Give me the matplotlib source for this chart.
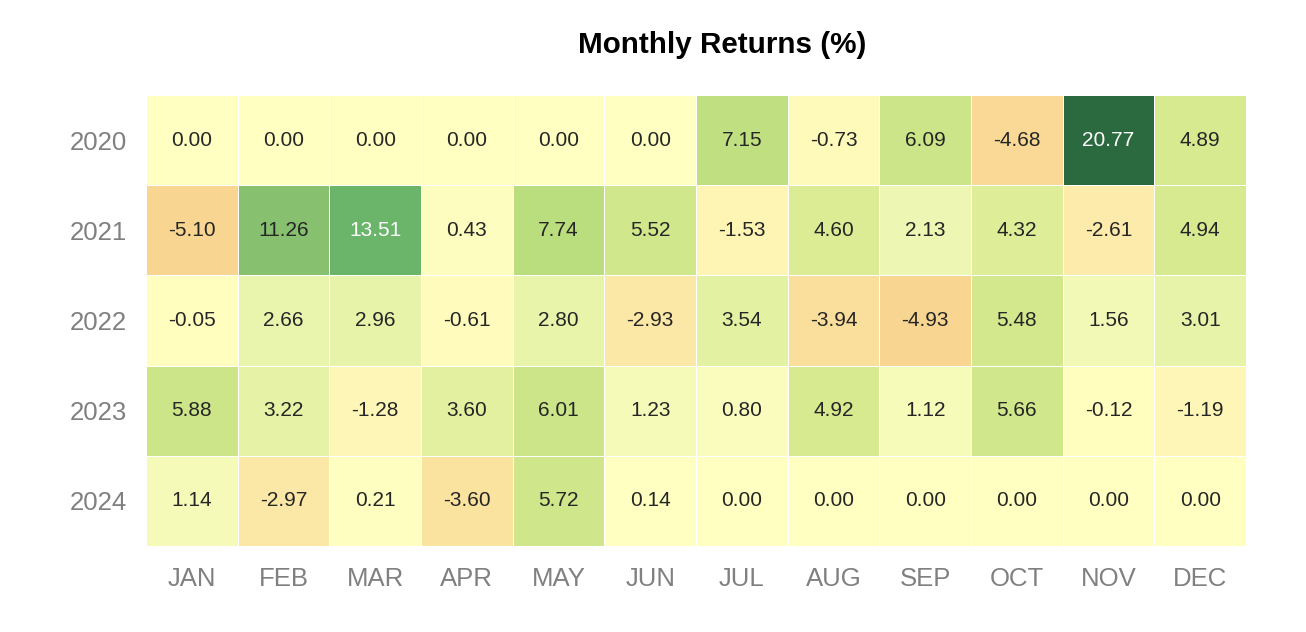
import matplotlib

matplotlib.use("Agg")
import matplotlib.pyplot as plt
import numpy as np
from matplotlib.colors import LinearSegmentedColormap, Normalize

plt.rcParams["font.family"] = ["Liberation Sans", "DejaVu Sans"]

YEARS = ["2020", "2021", "2022", "2023", "2024"]
MONTHS = ["JAN", "FEB", "MAR", "APR", "MAY", "JUN",
          "JUL", "AUG", "SEP", "OCT", "NOV", "DEC"]

R2020 = [0.00, 0.00, 0.00, 0.00, 0.00, 0.00, 7.15, -0.73, 6.09, -4.68, 20.77, 4.89]
R2021 = [-5.10, 11.26, 13.51, 0.43, 7.74, 5.52, -1.53, 4.60, 2.13, 4.32, -2.61, 4.94]
R2022 = [-0.05, 2.66, 2.96, -0.61, 2.80, -2.93, 3.54, -3.94, -4.93, 5.48, 1.56, 3.01]
R2023 = [5.88, 3.22, -1.28, 3.60, 6.01, 1.23, 0.80, 4.92, 1.12, 5.66, -0.12, -1.19]
R2024 = [1.14, -2.97, 0.21, -3.60, 5.72, 0.14, 0.00, 0.00, 0.00, 0.00, 0.00, 0.00]

returns = np.array([R2020, R2021, R2022, R2023, R2024])

# muted red-yellow-green, centred on zero
cmap = LinearSegmentedColormap.from_list("muted_rdylgn", [
    (0.00, "#d73027"), (0.30, "#f5b36a"), (0.377, "#f8d590"),
    (0.45, "#fdf0b0"), (0.50, "#ffffc0"), (0.55, "#eef7b4"),
    (0.62, "#d8ea90"), (0.69, "#b8dc7c"), (0.77, "#88c270"),
    (0.83, "#6ab46a"), (1.00, "#2b6a3e"),
])
vmax = np.abs(returns).max()
norm = Normalize(-vmax, vmax)

fig = plt.figure(figsize=(13.06, 6.32), dpi=100)
ax = fig.add_axes([146 / 1306, 1 - 546 / 632, 1100 / 1306, 451 / 632])
ax.pcolormesh(returns, cmap=cmap, norm=norm, edgecolors="white", linewidth=0.5)
ax.set_xlim(0, len(MONTHS))
ax.set_ylim(len(YEARS), 0)

for i in range(len(YEARS)):
    for j in range(len(MONTHS)):
        v = returns[i, j]
        r, g, b, _ = cmap(norm(v))
        lum = 0.2126 * r + 0.7152 * g + 0.0722 * b
        ax.text(j + 0.5, i + 0.5, f"{v:.2f}", ha="center", va="center",
                fontsize=15, color="white" if lum < 0.65 else "#262626")

ax.set_xticks(np.arange(len(MONTHS)) + 0.5)
ax.set_xticklabels(MONTHS)
ax.set_yticks(np.arange(len(YEARS)) + 0.5)
ax.set_yticklabels(YEARS)
ax.tick_params(length=0, labelsize=18.5, labelcolor="#808080")
ax.tick_params(axis="x", pad=15)
ax.tick_params(axis="y", pad=14)
for s in ax.spines.values():
    s.set_visible(False)

fig.text(722 / 1306, 1 - 45 / 632, "Monthly Returns (%)", ha="center",
         va="center", fontsize=21.3, fontweight="bold")

fig.savefig("out.png", dpi=100)
